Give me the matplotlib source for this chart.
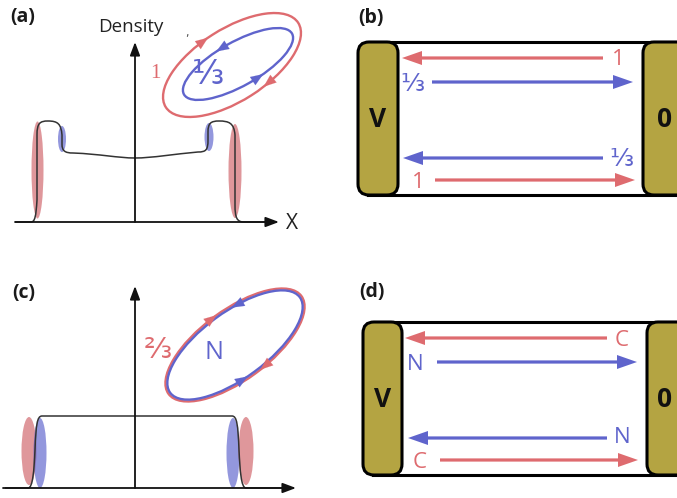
import numpy as np
import matplotlib
matplotlib.use("Agg")
import matplotlib.pyplot as plt
from matplotlib.patches import Ellipse, FancyBboxPatch, Rectangle, PathPatch
from matplotlib.path import Path

RED = "#de6b6f"
BLUE = "#5f64cc"
GOLD = "#b4a442"
RED_F = "#cf5f66"
BLUE_F = "#5a5fcc"

# ---------------- data (pixel-space schematic) ----------------
panel_labels = ["(a)", "(b)", "(c)", "(d)"]
panel_label_xy = [(23, 17), (371, 18), (24, 293), (372, 292)]

# density profile (a): Bezier vertices
prof_a_verts = [(15, 222), (31, 222), (35, 222), (36, 216), (37, 200),
                (37, 135), (37, 123), (40, 121), (48, 121),
                (58, 121), (61, 124), (62, 135), (62, 144),
                (62, 151), (65, 153), (73, 153),
                (100, 154), (118, 158), (135, 158),
                (152, 158), (175, 154), (198, 152),
                (206, 152), (208, 150), (208, 140), (208, 132),
                (208, 123), (211, 121), (219, 121),
                (229, 121), (234, 123), (235, 135), (235, 205),
                (235, 218), (237, 222), (244, 222), (270, 222)]
prof_a_codes = ["M", "L", "C", "C", "C", "L", "C", "C", "C", "C", "C", "C", "L",
                "C", "C", "C", "C", "C", "C", "C", "C", "C", "C", "C", "C", "L",
                "C", "C", "C", "C", "C", "C", "L", "C", "C", "C", "L"]

# density profile (c)
prof_c_verts = [(5, 488), (28, 488), (33, 488), (34, 470), (35, 450),
                (36, 425), (37, 416), (42, 416), (232, 416),
                (237, 416), (238, 425), (239, 450),
                (240, 470), (241, 488), (246, 488), (290, 488)]
prof_c_codes = ["M", "L", "C", "C", "C", "C", "C", "C", "L",
                "C", "C", "C", "C", "C", "C", "L"]

# edge-state blobs: (cx, cy, w, h, colour)
blobs_a = [(37.5, 170, 12, 97, "r"), (62, 139, 8, 26, "b"),
           (209, 137, 9, 28, "b"), (235, 171, 13, 94, "r")]
blobs_c = [(29, 451, 15, 68, "r"), (40, 453, 13, 70, "b"),
           (233, 453, 13, 70, "b"), (246, 451, 15, 68, "r")]

# loops: (cx, cy, a, b, angle_deg, colour, arrow params t (deg), direction)
loops_a = [(232, 65, 78.5, 36, -32.5, "r", [262, 75], +1),
           (238, 64, 62, 22, -29.4, "b", [262, 78], -1)]
loops_c = [(235, 345, 82.5, 35, -36.4, "r", [268, 82], +1),
           (235, 345, 80.5, 33, -36.4, "b", [288, 100], -1)]

# boxes (b), (d): top, bottom
box_y = [(42, 195), (322, 475)]
box_left_pill = [(358, 398), (363, 402)]
box_right_pill = [(643, 700), (647, 700)]

# arrows: (x_tail, x_head, y, colour, label, label_x, label_y)
arrows_b = [(603, 402, 58, "r", "1", 618, 59),
            (432, 633, 82, "b", "⅓", 412, 84),
            (603, 403, 158, "b", "⅓", 621, 159),
            (435, 635, 180, "r", "1", 418, 182)]
arrows_d = [(607, 405, 338, "r", "C", 622, 340),
            (437, 637, 362, "b", "N", 415, 364),
            (607, 408, 438, "b", "N", 622, 437),
            (440, 638, 460, "r", "C", 420, 462)]

col = {"r": RED, "b": BLUE}
fcol = {"r": RED_F, "b": BLUE_F}

fig = plt.figure(figsize=(6.77, 4.98), dpi=100)
ax = fig.add_axes([0, 0, 1, 1])
ax.set_xlim(0, 677)
ax.set_ylim(498, 0)
ax.set_aspect("equal")
ax.axis("off")

SANS = ["Open Sans", "DejaVu Sans"]

for lab, (x, y) in zip(panel_labels, panel_label_xy):
    ax.text(x, y, lab, ha="center", va="center", fontsize=14,
            fontweight="bold", family=SANS, color="#1a1a1a")

cmap = {"M": Path.MOVETO, "L": Path.LINETO, "C": Path.CURVE4}


def draw_profile(verts, codes):
    p = Path(verts, [cmap[c] for c in codes])
    ax.add_patch(PathPatch(p, fill=False, lw=1.1, ec="#333333", zorder=5))


def draw_blobs(blobs):
    for cx, cy, w, h, c in blobs:
        ax.add_patch(Ellipse((cx, cy), w, h, fc=fcol[c], ec="none",
                             alpha=0.65, zorder=4))


def draw_axes(x0, x1, y0, yaxis_x, ytop):
    ax.annotate("", xy=(x1, y0), xytext=(x0, y0),
                arrowprops=dict(arrowstyle="-|>,head_length=0.8,head_width=0.3",
                                lw=1.3, color="#111111", shrinkA=0, shrinkB=0),
                zorder=5)
    ax.annotate("", xy=(yaxis_x, ytop), xytext=(yaxis_x, y0),
                arrowprops=dict(arrowstyle="-|>,head_length=0.8,head_width=0.3",
                                lw=1.3, color="#111111", shrinkA=0, shrinkB=0),
                zorder=5)


def ell_pt(cx, cy, a, b, ang, t):
    p = np.deg2rad(ang)
    t = np.deg2rad(t)
    x = cx + a * np.cos(t) * np.cos(p) - b * np.sin(t) * np.sin(p)
    y = cy + a * np.cos(t) * np.sin(p) + b * np.sin(t) * np.cos(p)
    return x, y


def draw_loops(loops):
    for cx, cy, a, b, ang, c, ts, d in loops:
        ax.add_patch(Ellipse((cx, cy), 2 * a, 2 * b, angle=ang, fill=False,
                             ec=col[c], lw=1.7, zorder=6))
        for t in ts:
            x0, y0 = ell_pt(cx, cy, a, b, ang, t - 4 * d)
            x1, y1 = ell_pt(cx, cy, a, b, ang, t + 4 * d)
            ax.annotate("", xy=(x1, y1), xytext=(x0, y0),
                        arrowprops=dict(arrowstyle="-|>,head_length=0.9,head_width=0.35",
                                        lw=0.1, color=col[c], shrinkA=0, shrinkB=0),
                        zorder=7)


# ---- panel (a)
draw_blobs(blobs_a)
draw_profile(prof_a_verts, prof_a_codes)
draw_axes(15, 279, 222, 135, 42)
ax.text(131, 27, "Density", ha="center", va="center", fontsize=13.5,
        family=SANS, color="#222222")
ax.text(187, 33, ",", ha="center", va="center", fontsize=8, color="#444444")
ax.text(292, 223, "X", ha="center", va="center", fontsize=15,
        family=SANS, color="#222222")
draw_loops(loops_a)
ax.text(155, 73, "1", ha="center", va="center", fontsize=15,
        family="Liberation Serif", color=RED)
ax.text(208, 74, "⅓", ha="center", va="center", fontsize=24,
        family="DejaVu Sans", color=BLUE)

# ---- panel (c)
draw_blobs(blobs_c)
draw_profile(prof_c_verts, prof_c_codes)
draw_axes(3, 296, 488, 135, 286)
draw_loops(loops_c)
ax.text(158, 350, "⅔", ha="center", va="center", fontsize=21,
        family="DejaVu Sans", color=RED, rotation=0)
ax.text(214, 352, "N", ha="center", va="center", fontsize=18,
        family=SANS, color=BLUE)


# ---- boxes
def draw_box(ytb, lp, rp, arrows, lbl_size, lblfam):
    yt, yb = ytb
    ax.add_patch(Rectangle((lp[0] + 10, yt), rp[1] - lp[0] - 10, yb - yt,
                           fc="white", ec="black", lw=2.2, zorder=2))
    for (x0, x1) in (lp, rp):
        ax.add_patch(FancyBboxPatch((x0, yt), x1 - x0, yb - yt,
                                    boxstyle="round,pad=0,rounding_size=11",
                                    fc=GOLD, ec="black", lw=2.2, zorder=3))
    ym = (yt + yb) / 2
    ax.text((lp[0] + lp[1]) / 2, ym + 1, "V", ha="center", va="center",
            fontsize=19, fontweight="bold", family=SANS, color="#111111", zorder=4)
    ax.text(665, ym + 1, "0", ha="center", va="center",
            fontsize=19, fontweight="bold", family=SANS, color="#111111", zorder=4)
    for x0, x1, y, c, lab, lx, ly in arrows:
        ax.arrow(x0, y, x1 - x0, 0, width=3.2, head_width=14, head_length=20,
                 length_includes_head=True, fc=col[c], ec="none", zorder=4)
        if lab in ("⅓",):
            ax.text(lx, ly, lab, ha="center", va="center", fontsize=18,
                    family="DejaVu Sans", color=col[c], zorder=4)
        else:
            ax.text(lx, ly, lab, ha="center", va="center", fontsize=lbl_size,
                    family=lblfam, color=col[c], zorder=4)


draw_box(box_y[0], box_left_pill[0], box_right_pill[0], arrows_b, 16, SANS)
draw_box(box_y[1], box_left_pill[1], box_right_pill[1], arrows_d, 16, SANS)

fig.savefig("out.png", dpi=100)
